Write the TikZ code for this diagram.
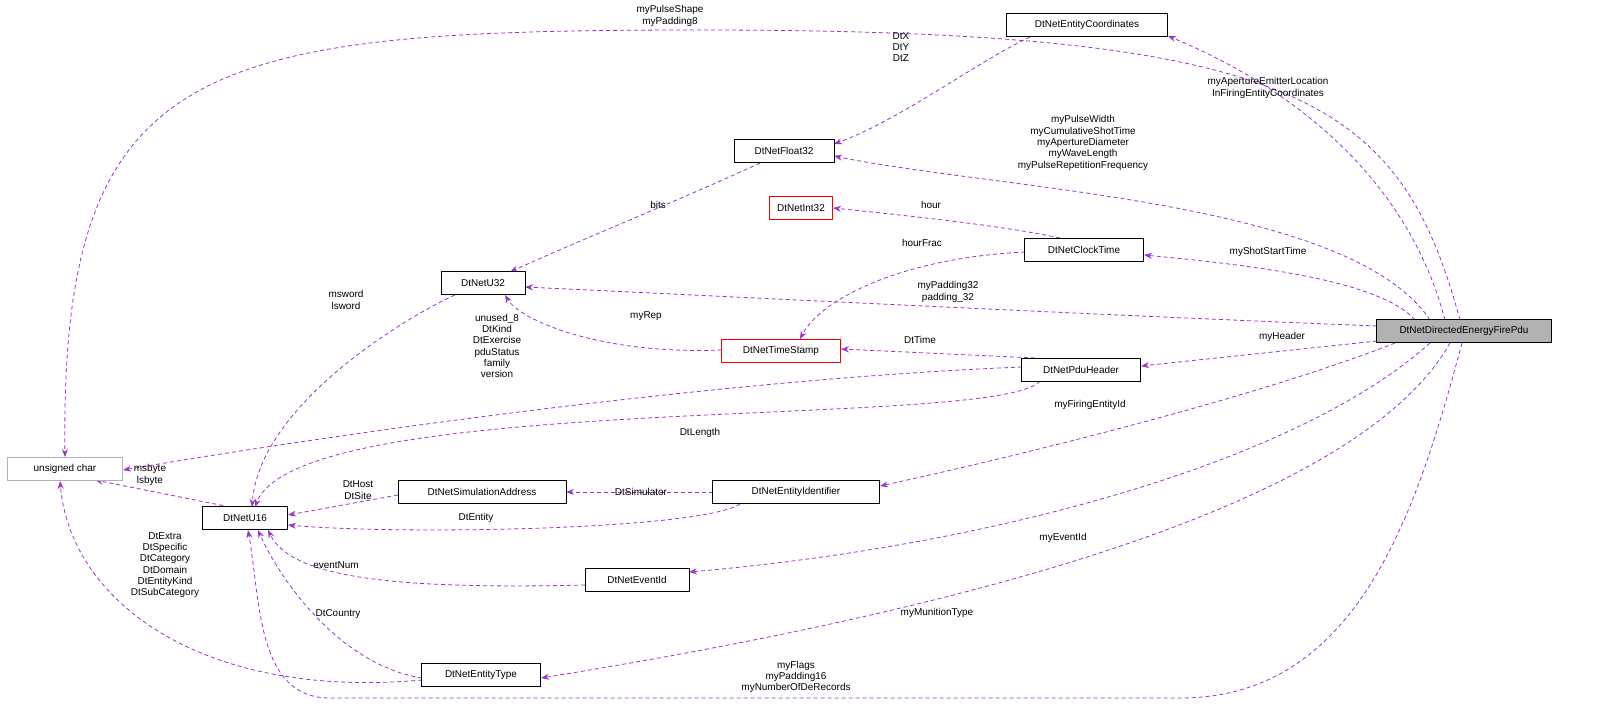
\documentclass[tikz,border=0pt]{standalone}
\usepackage{fontspec}
\setmainfont{Liberation Sans}
\usetikzlibrary{arrows.meta,backgrounds}
\definecolor{edge}{HTML}{9A32CD}
\begin{document}
\begin{tikzpicture}[x=1bp,y=-1bp,
  box/.style={draw,fill=white,rectangle,inner sep=0,minimum height=23bp,line width=0.8pt,font=\fontsize{10}{12}\selectfont},
  e/.style={draw=edge,line width=0.8pt,dash pattern=on 4bp off 3bp,-{Stealth[length=8pt,width=6pt]},fill=none},
  l/.style={font=\fontsize{10}{11.4}\selectfont,align=center,inner sep=0}]
\useasboundingbox (0,0) rectangle (1608,724);
\node[box,fill=gray!60,minimum width=175bp] (pdu) at (1464,331) {DtNetDirectedEnergyFirePdu};
\node[box,draw=gray!60,minimum width=115bp] (uc) at (65,469) {unsigned char};
\node[box,minimum width=85bp] (u16) at (245,518) {DtNetU16};
\node[box,minimum width=84bp] (u32) at (483,283) {DtNetU32};
\node[box,minimum width=100bp] (f32) at (784,151) {DtNetFloat32};
\node[box,minimum width=161bp] (ec) at (1087,25) {DtNetEntityCoordinates};
\node[box,draw=red,minimum width=63bp] (i32) at (801,208) {DtNetInt32};
\node[box,minimum width=119bp] (ct) at (1084,250) {DtNetClockTime};
\node[box,draw=red,minimum width=119bp] (ts) at (781,351) {DtNetTimeStamp};
\node[box,minimum width=119bp] (ph) at (1081,370) {DtNetPduHeader};
\node[box,minimum width=168bp] (sa) at (482,492) {DtNetSimulationAddress};
\node[box,minimum width=167bp] (ei) at (796,492) {DtNetEntityIdentifier};
\node[box,minimum width=104bp] (ev) at (637,580) {DtNetEventId};
\node[box,minimum width=119bp] (et) at (481,675) {DtNetEntityType};

\begin{scope}[on background layer]
% from Pdu
\draw[e] (1460,320) .. controls (1400,100) and (1300,30) .. (700,30) .. controls (200,30) and (60,60) .. (uc.north);
\draw[e] (1445,320) .. controls (1400,150) and (1250,70) .. (1168,36);
\draw[e] (1430,320) .. controls (1350,200) and (1000,190) .. (834,156);
\draw[e] (1415,320) .. controls (1380,280) and (1250,265) .. (1144,255);
\draw[e] (1377,326) .. controls (1100,315) and (800,300) .. (525,287);
\draw[e] (1377,341) -- (1141,366);
\draw[e] (1395,343) .. controls (1250,400) and (1000,460) .. (880,486);
\draw[e] (1430,343) .. controls (1300,460) and (1000,545) .. (689,572);
\draw[e] (1450,343) .. controls (1350,520) and (900,620) .. (541,678);
\draw[e] (1462,343) to[out=-105,in=0] (1180,698) -- (330,698) to[out=180,in=-80] (248,530);

% others
\draw[e] (1030,37) .. controls (980,60) and (900,120) .. (834,144);
\draw[e] (760,163) .. controls (680,200) and (580,240) .. (510,272);
\draw[e] (1060,238) .. controls (1000,225) and (900,215) .. (833,208);
\draw[e] (1025,252) .. controls (900,258) and (820,300) .. (800,339);
\draw[e] (722,350) .. controls (600,355) and (520,320) .. (505,295);
\draw[e] (1035,358) -- (841,349);
\draw[e] (1022,367) .. controls (700,380) and (300,440) .. (123,470);
\draw[e] (1040,381) .. controls (1000,430) and (300,390) .. (255,507);
\draw[e] (455,295) .. controls (420,310) and (260,400) .. (252,507);
\draw[e] (230,507) -- (95,480);
\draw[e] (398,495) -- (288,515);
\draw[e] (713,492) -- (566,492);
\draw[e] (740,504) .. controls (700,530) and (400,535) .. (288,525);
\draw[e] (585,585) .. controls (380,590) and (290,575) .. (268,530);
\draw[e] (422,678) .. controls (340,665) and (280,580) .. (258,530);
\draw[e] (422,680) .. controls (200,700) and (70,600) .. (60,481);
\end{scope}

% labels
\node[l] (la) at (670,16) {myPulseShape\\myPadding8};
\node[l] (lb) at (1268,88) {myApertureEmitterLocation\\InFiringEntityCoordinates};
\node[l] (lc) at (1083,143) {myPulseWidth\\myCumulativeShotTime\\myApertureDiameter\\myWaveLength\\myPulseRepetitionFrequency};
\node[l] (ld) at (1268,252) {myShotStartTime};
\node[l] (le) at (948,292) {myPadding32\\padding\_32};
\node[l] (lf) at (1282,337) {myHeader};
\node[l] (lg) at (1090,405) {myFiringEntityId};
\node[l] (lh) at (1063,538) {myEventId};
\node[l] (li) at (937,613) {myMunitionType};
\node[l] (lj) at (796,677) {myFlags\\myPadding16\\myNumberOfDeRecords};
\node[l] (lk) at (901,47) {DtX\\DtY\\DtZ};
\node[l] (ll) at (658,205) {bits};
\node[l] (lm) at (931,205) {hour};
\node[l] (ln) at (922,243) {hourFrac};
\node[l] (lo) at (646,316) {myRep};
\node[l] (lp) at (920,340) {DtTime};
\node[l] (lq) at (497,346) {unused\_8\\DtKind\\DtExercise\\pduStatus\\family\\version};
\node[l] (lr) at (700,433) {DtLength};
\node[l] (ls) at (346,300) {msword\\lsword};
\node[l] (lt) at (150,475) {msbyte\\lsbyte};
\node[l] (lu) at (358,490) {DtHost\\DtSite};
\node[l] (lv) at (641,492) {DtSimulator};
\node[l] (lw) at (476,518) {DtEntity};
\node[l] (lx) at (336,565) {eventNum};
\node[l] (ly) at (338,614) {DtCountry};
\node[l] (lz) at (165,565) {DtExtra\\DtSpecific\\DtCategory\\DtDomain\\DtEntityKind\\DtSubCategory};
\end{tikzpicture}
\end{document}
